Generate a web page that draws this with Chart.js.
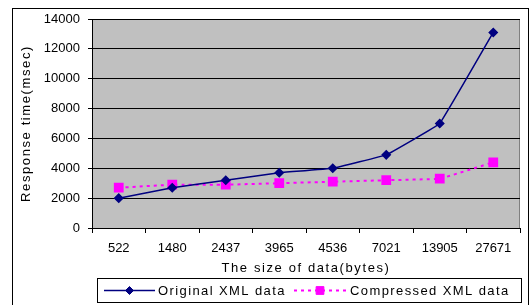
<!DOCTYPE html>
<html>
<head>
<meta charset="utf-8">
<script src="https://cdn.jsdelivr.net/npm/chart.js@4"></script>
<style>
    html, body { margin: 0; padding: 0; background: #fff; }
    #wrap { width: 531px; height: 305px; position: relative; }
</style>
</head>
<body>
<div id="wrap"><canvas id="chart" width="531" height="305"></canvas></div>
<script>
// Data
const sizes = ["522", "1480", "2437", "3965", "4536", "7021", "13905", "27671"];
const originalXml = [2000, 2700, 3200, 3700, 4000, 4900, 7000, 13100];
const compressedXml = [2700, 2900, 2900, 3000, 3100, 3200, 3300, 4400];
const yTicks = [0, 2000, 4000, 6000, 8000, 10000, 12000, 14000];

const FONT = "'Liberation Sans', 'DejaVu Sans', Arial, sans-serif";

// Gray plot background, outer frame and a boxed legend drawn like Excel
const excelLook = {
    id: "excelLook",
    beforeDraw(chart) {
        const { ctx, chartArea: a } = chart;
        // axis titles are letter-spaced in the original
        Object.values(chart.scales).forEach((s) => {
            if (s._spaced) return;
            const orig = s.drawTitle;
            s.drawTitle = function () {
                this.ctx.save();
                this.ctx.letterSpacing = "1.6px";
                orig.call(this);
                this.ctx.restore();
            };
            s._spaced = true;
        });
        ctx.save();
        ctx.fillStyle = "#fff";
        ctx.fillRect(0, 0, chart.width, chart.height);
        // outer frame
        ctx.strokeStyle = "#000";
        ctx.lineWidth = 1;
        ctx.strokeRect(12.5, 8.5, 516, 300);
        // plot area
        ctx.fillStyle = "#c0c0c0";
        ctx.fillRect(a.left, a.top, a.right - a.left, a.bottom - a.top);
        ctx.strokeStyle = "#808080";
        ctx.strokeRect(a.left + 0.5, a.top + 0.5, a.right - a.left - 1, a.bottom - a.top);
        ctx.restore();
    },
    afterDraw(chart) {
        const { ctx } = chart;
        const box = { x: 97.5, y: 278.5, w: 424, h: 24 };
        ctx.save();
        ctx.fillStyle = "#fff";
        ctx.fillRect(box.x, box.y, box.w, box.h);
        ctx.strokeStyle = "#000";
        ctx.lineWidth = 1;
        ctx.strokeRect(box.x, box.y, box.w, box.h);
        const cy = box.y + box.h / 2;
        const entries = [
            { ds: 0, x0: 104, x1: 155, tx: 158 },
            { ds: 1, x0: 294, x1: 346, tx: 350 },
        ];
        ctx.font = "13px " + FONT;
        ctx.textBaseline = "middle";
        entries.forEach((e) => {
            const ds = chart.data.datasets[e.ds];
            ctx.strokeStyle = ds.borderColor;
            ctx.lineWidth = ds.borderWidth;
            ctx.setLineDash(ds.borderDash || []);
            ctx.beginPath();
            ctx.moveTo(e.x0, cy);
            ctx.lineTo(e.x1, cy);
            ctx.stroke();
            ctx.setLineDash([]);
            ctx.fillStyle = ds.pointBackgroundColor;
            ctx.strokeStyle = ds.pointBorderColor;
            ctx.lineWidth = 1;
            Chart.helpers.drawPoint(ctx, {
                pointStyle: ds.pointStyle,
                radius: ds.pointRadius,
                borderWidth: 1,
                rotation: 0,
            }, (e.x0 + e.x1) / 2, cy);
            ctx.fillStyle = "#000";
            ctx.letterSpacing = "1.4px";
            ctx.fillText(ds.label, e.tx, cy + 1);
            ctx.letterSpacing = "0px";
        });
        ctx.restore();
    },
};

new Chart(document.getElementById("chart"), {
    type: "line",
    data: {
        labels: sizes,
        datasets: [
            {
                label: "Original XML data",
                data: originalXml,
                borderColor: "#000080",
                borderWidth: 1.5,
                pointStyle: "rectRot",
                pointRadius: 4,
                pointBackgroundColor: "#000080",
                pointBorderColor: "#000080",
                tension: 0.05,
            },
            {
                label: "Compressed XML data",
                data: compressedXml,
                borderColor: "#ff00ff",
                borderWidth: 2,
                borderDash: [3, 4],
                pointStyle: "rect",
                pointRadius: 5.5,
                pointBackgroundColor: "#ff00ff",
                pointBorderColor: "#ff00ff",
                tension: 0.05,
            },
        ],
    },
    options: {
        responsive: false,
        animation: false,
        layout: { padding: { top: 19, right: 11, left: 0, bottom: 0 } },
        plugins: {
            legend: { display: false },
            tooltip: { enabled: false },
        },
        scales: {
            x: {
                offset: true,
                grid: {
                    offset: true,
                    drawOnChartArea: false,
                    drawTicks: true,
                    tickLength: 5,
                    color: "#000",
                },
                border: { color: "#000", width: 1 },
                ticks: {
                    color: "#000",
                    padding: 8,
                    maxRotation: 0,
                    font: { family: FONT, size: 13 },
                },
                title: {
                    display: true,
                    text: "The size of data(bytes)",
                    color: "#000",
                    padding: { top: 0, bottom: 29 },
                    font: { family: FONT, size: 13 },
                },
                afterFit: (s) => { s.height = 77; },
            },
            y: {
                min: 0,
                max: 14000,
                afterBuildTicks: (s) => { s.ticks = yTicks.map((v) => ({ value: v })); },
                grid: {
                    color: "#000",
                    tickLength: 4,
                    drawTicks: true,
                },
                border: { color: "#000", width: 1 },
                ticks: {
                    color: "#000",
                    padding: 8,
                    font: { family: FONT, size: 13 },
                    callback: (v) => String(v),
                },
                title: {
                    display: true,
                    text: "Response time(msec)",
                    color: "#000",
                    padding: { top: 19, bottom: 0 },
                    font: { family: FONT, size: 13 },
                },
                afterFit: (s) => { s.width = 92; },
            },
        },
    },
    plugins: [excelLook],
});
</script>
</body>
</html>
